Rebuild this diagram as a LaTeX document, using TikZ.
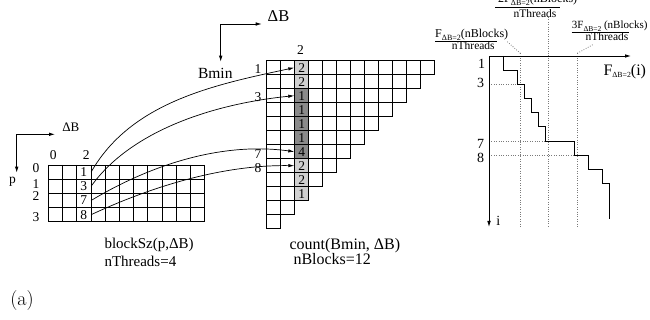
\documentclass[tikz,border=0pt]{standalone}
\usepackage{fontspec}
\newfontfamily\tm{Liberation Serif}
\usetikzlibrary{arrows.meta}
\definecolor{lightg}{HTML}{D0D0D0}
\definecolor{darkg}{HTML}{8A8A8A}
\definecolor{dotg}{HTML}{7A7A7A}
\newcommand\Fsub[2]{F\raisebox{#2}{\fontsize{#1}{#1}\selectfont ΔB=2}}
\tikzset{
  gridln/.style={line width=0.8pt},
  bcell/.style={minimum width=14.2pt, minimum height=14.2pt, inner sep=0pt, font={\tm\fontsize{13.5}{14}\selectfont}},
  ccell/.style={draw, line width=0.8pt, minimum width=14pt, minimum height=14pt, inner sep=0pt, font={\tm\fontsize{13.5}{14}\selectfont}},
  lbl/.style={inner sep=0pt, font={\tm\fontsize{13.5}{14}\selectfont}},
  axarr/.style={{Latex[length=6pt,width=3.6pt]}-{Latex[length=6pt,width=3.6pt]}, line width=0.8pt},
  curvearr/.style={-{Latex[length=6pt,width=3.4pt]}, line width=0.7pt},
  stair/.style={line width=1pt, line join=miter},
  dots/.style={dotg, line width=0.8pt, dash pattern=on 0.8pt off 1.6pt},
  big/.style={inner sep=0pt, font={\tm\fontsize{15}{16}\selectfont}},
  bigger/.style={inner sep=0pt, font={\tm\fontsize{16}{17}\selectfont}},
  frn/.style={inner sep=0pt, font={\tm\fontsize{12}{13}\selectfont}},
  frd/.style={inner sep=0pt, font={\tm\fontsize{11.5}{12}\selectfont}},
}
\begin{document}
\begin{tikzpicture}[x=1pt,y=-1pt]
\useasboundingbox (0,0) rectangle (650,320);

% ---------- left grid: blockSz ----------
\foreach \i in {0,...,11} \draw[gridln] (48.3+\i*14.2,165) -- (48.3+\i*14.2,221.8);
\foreach \j in {0,...,4} \draw[gridln] (48.3,165+\j*14.2) -- (204.5,165+\j*14.2);
\node[bcell] (b1) at (83.8,172.1) {1};
\node[bcell] (b2) at (83.8,186.3) {3};
\node[bcell] (b3) at (83.8,200.5) {7};
\node[bcell] (b4) at (83.8,214.7) {8};
\node[lbl] (lc0) at (53.3,155) {0};
\node[lbl] (lc2) at (86.3,155) {2};
\node[lbl] (lr0) at (36,168.3) {0};
\node[lbl] (lr1) at (36,184) {1};
\node[lbl] (lr2) at (36,196.5) {2};
\node[lbl] (lr3) at (36,216.7) {3};
\node[lbl] (lp) at (12.5,182) {p};
\coordinate (lax) at (55,134.3);
\coordinate (lco) at (16.7,134.3);
\coordinate (lay) at (16.7,172.7);
\draw[axarr] (lax) -- (lco) -- (lay);
\node[inner sep=0pt, font={\tm\fontsize{13}{14}\selectfont}] (ldb) at (70.8,127.5) {ΔB};
\node[big, anchor=base west] (bsz) at (104.3,248.3) {blockSz(p,ΔB)};
\node[big, anchor=base west] (nth) at (104.3,266) {nThreads=4};

% ---------- count grid ----------
\foreach \r in {0,...,11}{
  \pgfmathtruncatemacro\nn{11-\r}
  \foreach \c in {0,...,\nn}
    \draw[gridln] (266.7+\c*14,60.7+\r*14) rectangle ++(14,14);
}
\node[ccell, fill=lightg] (c0) at (301.7,67.7) {2};
\node[ccell, fill=lightg] (c1) at (301.7,81.7) {2};
\node[ccell, fill=darkg] (c2) at (301.7,95.7) {1};
\node[ccell, fill=darkg] (c3) at (301.7,109.7) {1};
\node[ccell, fill=darkg] (c4) at (301.7,123.7) {1};
\node[ccell, fill=darkg] (c5) at (301.7,137.7) {1};
\node[ccell, fill=darkg] (c6) at (301.7,151.7) {4};
\node[ccell, fill=lightg] (c7) at (301.7,165.7) {2};
\node[ccell, fill=lightg] (c8) at (301.7,179.7) {2};
\node[ccell, fill=lightg] (c9) at (301.7,193.7) {1};
\node[lbl] (cc2) at (300.5,50.5) {2};
\node[lbl] (cr1) at (258,69) {1};
\node[lbl] (cr3) at (258,97.5) {3};
\node[lbl] (cr7) at (258,154) {7};
\node[lbl] (cr8) at (258,168.3) {8};
\coordinate (cax) at (261.7,24);
\coordinate (cco) at (220.7,24);
\coordinate (cay) at (220.7,61.7);
\draw[axarr] (cax) -- (cco) -- (cay);
\node[inner sep=0pt, font={\tm\fontsize{16.5}{18}\selectfont}] (cdb) at (278.5,16.5) {ΔB};
\node[inner sep=0pt, font={\tm\fontsize{15.5}{17}\selectfont}] (bmin) at (215.3,73) {Bmin};
\node[bigger, anchor=base west] (cnt) at (289.3,249.3) {count(Bmin, ΔB)};
\node[bigger, anchor=base west] (nbl) at (293.3,264.5) {nBlocks=12};

% ---------- connectors ----------
\draw[curvearr] (b1.east) .. controls +(40,-70) and +(-80,17) .. (c0.west);
\draw[curvearr] (b2.east) .. controls +(40,-56) and +(-80,8) .. (c2.west);
\draw[curvearr] (b3.east) .. controls +(60,-36) and +(-72,-10) .. (c6.west);
\draw[curvearr] (b4.east) .. controls +(60,-28) and +(-72,-1) .. (c7.west);

% ---------- right chart ----------
\draw[dots] (520.3,53.3) -- (520.3,228);
\draw[dots] (548.7,17) -- (548.7,228);
\draw[dots] (577.3,53.3) -- (577.3,228);
\draw[dots] (507.3,41.7) -- (520.3,53.3);
\draw[dots] (577.3,53.3) -- (594,44);
\draw[dots] (489,84.4) -- (517.4,84.4);
\draw[dots] (489,141.2) -- (545.8,141.2);
\draw[dots] (489,155.4) -- (574.2,155.4);
\coordinate (rax) at (631,56);
\coordinate (rco) at (489,56);
\coordinate (ray) at (489,227);
\draw[axarr] (rax) -- (rco) -- (ray);
\draw[stair] (503.2,56) -- (503.2,70.2) -- (517.4,70.2) -- (517.4,84.4) -- (524.5,84.4) -- (524.5,98.6)
  -- (531.6,98.6) -- (531.6,112.8) -- (538.7,112.8) -- (538.7,127) -- (545.8,127) -- (545.8,141.2)
  -- (574.2,141.2) -- (574.2,155.4) -- (588.4,155.4) -- (588.4,169.6) -- (602.6,169.6) -- (602.6,183.8)
  -- (609.7,183.8) -- (609.7,219.3);
\node[inner sep=0pt, font={\tm\fontsize{14}{15}\selectfont}] (r1) at (481.7,63.8) {1};
\node[inner sep=0pt, font={\tm\fontsize{14}{15}\selectfont}] (r3) at (480.5,83.3) {3};
\node[inner sep=0pt, font={\tm\fontsize{14}{15}\selectfont}] (r7) at (480.7,144.3) {7};
\node[inner sep=0pt, font={\tm\fontsize{14}{15}\selectfont}] (r8) at (480.7,158.3) {8};
\node[inner sep=0pt, font={\tm\fontsize{14}{15}\selectfont}] (ri) at (498.3,221) {i};
\node[inner sep=0pt, font={\tm\fontsize{16}{17}\selectfont}, anchor=base west] (fi) at (603.3,76) {\Fsub{7.8}{-2pt}(i)};

% fraction labels
\node[frn, anchor=base west] (fln) at (435,37.3) {\Fsub{8}{-3pt}(nBlocks)};
\draw[line width=0.6pt] (435,41) -- (497,41);
\node[frd, anchor=base] (fld) at (473.3,49.5) {nThreads};
\node[frn, anchor=base west] (fmn) at (498,3) {2\Fsub{8}{-3pt}(nBlocks)};
\draw[line width=0.6pt] (495,7.5) -- (560,7.5);
\node[frd, anchor=base] (fmd) at (535,17.3) {nThreads};
\node[inner sep=0pt, font={\tm\fontsize{11}{12}\selectfont}, anchor=base west] (frn) at (571.7,29) {3\Fsub{7.5}{-3pt} (nBlocks)};
\draw[line width=0.6pt] (571.7,32) -- (628.5,32);
\node[frd, anchor=base] (frd) at (607,41) {nThreads};

% caption
\node[inner sep=0pt, font={\fontsize{20}{22}\selectfont}] (cap) at (22,301) {(a)};
\end{tikzpicture}
\end{document}
